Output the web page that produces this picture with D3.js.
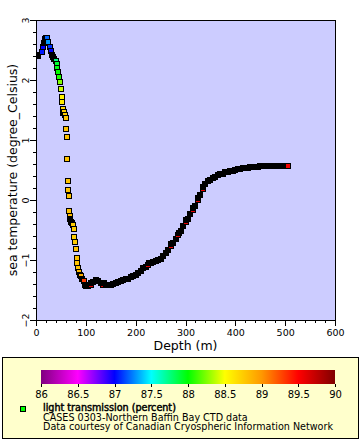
<!DOCTYPE html>
<html>
<head>
<meta charset="utf-8">
<script src="https://cdn.jsdelivr.net/npm/d3@7"></script>
<style>
  html, body { margin: 0; padding: 0; background: #ffffff; }
  svg { display: block; font-family: "DejaVu Sans", sans-serif; }
</style>
</head>
<body>
<div id="chart"></div>
<script>
// ---------------- data ----------------
const depths = [
  3, 4, 5, 13, 14, 17, 19, 21, 23, 25, 28, 30, 32, 34, 36, 40, 42, 43, 44.5, 46,
  48, 50, 51.5, 52.5, 54, 55, 56.5, 58, 60, 60.5, 62, 62, 64, 64, 65.5, 66, 67.5, 69, 71, 72.5,
  74.5, 76.5, 77, 78.5, 80, 82, 83, 84.5, 86, 88, 90, 93, 96.5, 98,
  100, 105, 110, 111, 115, 120, 125, 130, 135, 136, 140, 145, 150, 155, 160, 165, 170, 175, 180, 185, 190, 195,
  200, 205, 210, 215, 220, 225, 226, 230, 235, 240, 245, 250, 255, 260, 265, 270, 271, 275, 280, 285, 286, 290, 295,
  300, 301, 305, 310, 315, 316, 320, 325, 326, 330, 335, 336, 340, 345, 350, 355, 360, 365, 370, 375, 380, 385, 390, 395,
  400, 405, 410, 415, 420, 425, 430, 435, 440, 445, 450, 455, 460, 465, 470, 475, 480, 485, 490, 495,
  500, 505
];
const temps = [
  2.40, 2.40, 2.41, 2.46, 2.55, 2.62, 2.68, 2.70, 2.70, 2.63, 2.55, 2.49, 2.42, 2.38, 2.35, 2.32, 2.27, 2.20, 2.13, 2.05,
  1.97, 1.85, 1.72, 1.64, 1.52, 1.45, 1.46, 1.42, 1.37, 1.18, 1.05, 0.68, 0.31, 0.17, 0.06, -0.18, -0.26, -0.31, -0.36, -0.38,
  -0.41, -0.49, -0.62, -0.70, -0.81, -0.96, -1.05, -1.13, -1.20, -1.25, -1.27, -1.32, -1.35, -1.42,
  -1.44, -1.43, -1.42, -1.385, -1.37, -1.34, -1.35, -1.38, -1.41, -1.375, -1.42, -1.42, -1.41, -1.40, -1.39, -1.37, -1.35, -1.33, -1.32, -1.31, -1.29, -1.27,
  -1.25, -1.22, -1.18, -1.14, -1.11, -1.08, -1.045, -1.05, -1.03, -1.01, -1.00, -0.98, -0.94, -0.89, -0.84, -0.77, -0.735, -0.71, -0.65, -0.58, -0.545, -0.51, -0.44,
  -0.37, -0.335, -0.31, -0.24, -0.17, -0.135, -0.10, 0.00, 0.035, 0.09, 0.18, 0.215, 0.26, 0.31, 0.34, 0.37, 0.39, 0.41, 0.43, 0.44, 0.46, 0.47, 0.48, 0.49,
  0.50, 0.51, 0.52, 0.53, 0.535, 0.54, 0.545, 0.55, 0.55, 0.555, 0.56, 0.56, 0.56, 0.565, 0.565, 0.565, 0.565, 0.565, 0.565, 0.565,
  0.565, 0.565
];
// light transmission (percent); null = no value (drawn black)
const light = [
  null, null, null, 87.05, 87.0, null, null, null, 87.2, 87.3, 87.1, 87.0, null, null, null, 87.75, 87.9, 87.95, 88.0, 88.05,
  88.25, 88.4, 88.55, 88.6, 88.7, null, 88.75, 88.75, 88.8, 88.8, 88.8, 88.8, 88.8, 88.8, 88.8, 88.8, 88.85, null, null, null,
  88.75, 88.75, 88.75, 88.75, 88.8, 88.8, 88.8, 88.8, 88.85, null, 88.9, null, 89.3, null,
  null, null, 89.6, null, null, null, null, null, 89.6, null, null, null, null, null, null, null, null, null, null, null, null, null,
  null, null, null, null, null, 89.6, null, null, null, null, null, null, null, null, null, 89.6, null, null, null, 89.6, null, null, null,
  89.6, null, null, null, 89.6, null, null, 89.6, null, null, 89.6, null, null, null, null, null, null, null, null, null, null, null, null, null,
  null, null, null, null, null, null, null, null, null, null, null, null, null, null, null, null, null, null, null, null,
  null, 89.55
];

const xTicks = [0, 100, 200, 300, 400, 500, 600];
const yTicks = [-2, -1, 0, 1, 2, 3];
const colorStops = [86, 86.5, 87, 87.5, 88, 88.5, 89, 89.5, 90];
const colorHex = ["#800080", "#ff00ff", "#0000ff", "#00ffff", "#00ff00", "#ffff00", "#ff9900", "#ff0000", "#800000"];
const colorLabels = ["86", "86.5", "87", "87.5", "88", "88.5", "89", "89.5", "90"];

const xTitle = "Depth (m)";
const yTitle = "sea temperature (degree_Celsius)";
const legendLines = [
  "light transmission (percent)",
  "CASES 0303-Northern Baffin Bay CTD data",
  "Data courtesy of Canadian Cryospheric Information Network"
];

// ---------------- drawing ----------------
const W = 360, H = 440;
const svg = d3.select("#chart").append("svg").attr("width", W).attr("height", H);
svg.append("rect").attr("width", W).attr("height", H).attr("fill", "#ffffff");

const x = d3.scaleLinear().domain([0, 600]).range([36, 335]);
const y = d3.scaleLinear().domain([-2, 3]).range([320, 20]);
const color = d3.scaleLinear().domain(colorStops).range(colorHex).clamp(true);

// plot background
svg.append("rect").attr("x", 36).attr("y", 20).attr("width", 299).attr("height", 300)
  .attr("fill", "#ccccff");

svg.append("clipPath").attr("id", "clip").append("rect")
  .attr("x", 37).attr("y", 21).attr("width", 298).attr("height", 299);

// points
const pts = depths.map((d, i) => ({ d: d, t: temps[i], c: light[i] }));
svg.append("g").attr("clip-path", "url(#clip)")
  .selectAll("rect").data(pts).join("rect")
  .attr("x", p => Math.round(x(p.d)) - 2.5)
  .attr("y", p => Math.round(y(p.t)) - 2.5)
  .attr("width", 5).attr("height", 5)
  .attr("fill", p => p.c == null ? "#000000" : color(p.c))
  .attr("stroke", "#000000").attr("stroke-width", 1)
  .attr("shape-rendering", "crispEdges");

// plot frame
svg.append("rect").attr("x", 36.5).attr("y", 20.5).attr("width", 299).attr("height", 300)
  .attr("fill", "none").attr("stroke", "#000").attr("stroke-width", 1)
  .attr("shape-rendering", "crispEdges");

// x axis
const xMinor = d3.range(0, 601, 20).filter(v => v % 100 !== 0);
const gx = svg.append("g").attr("transform", "translate(0,320)");
gx.call(d3.axisBottom(x).tickValues(xMinor).tickSize(3).tickSizeOuter(0).tickFormat(""));
gx.call(g => g.select(".domain").remove());
const gx2 = svg.append("g").attr("transform", "translate(0,320)");
gx2.call(d3.axisBottom(x).tickValues(xTicks).tickSize(6).tickSizeOuter(0).tickPadding(3).tickFormat(d3.format("d")));
gx2.call(g => g.select(".domain").remove());
gx2.selectAll("text").attr("font-size", "9.5px").attr("font-family", "DejaVu Sans").attr("fill", "#000");

// y axis
const yMinor = d3.range(-2, 3.001, 0.2).map(v => Math.round(v * 10) / 10).filter(v => Math.abs(v - Math.round(v)) > 1e-6);
const gy = svg.append("g").attr("transform", "translate(36,0)");
gy.call(d3.axisLeft(y).tickValues(yMinor).tickSize(3).tickSizeOuter(0).tickFormat(""));
gy.call(g => g.select(".domain").remove());
const gy2 = svg.append("g").attr("transform", "translate(36,0)");
gy2.call(d3.axisLeft(y).tickValues(yTicks).tickSize(6).tickSizeOuter(0).tickFormat(""));
gy2.call(g => g.select(".domain").remove());
svg.selectAll(".tick line").attr("stroke", "#000").attr("shape-rendering", "crispEdges");
gy2.selectAll(".tick").append("text")
  .attr("transform", "translate(-7,0) rotate(-90)")
  .attr("text-anchor", "middle")
  .attr("font-size", "9.5px").attr("font-family", "DejaVu Sans").attr("fill", "#000")
  .text(d => d3.format("d")(d));

// titles
svg.append("text").attr("x", (x(0) + x(600)) / 2).attr("y", 350)
  .attr("text-anchor", "middle").attr("font-size", "12.5px").attr("fill", "#000").text(xTitle);
svg.append("text").attr("transform", `translate(16.5,${(y(3) + y(-2)) / 2}) rotate(-90)`)
  .attr("text-anchor", "middle").attr("font-size", "12.5px").attr("fill", "#000").text(yTitle);

// legend box
svg.append("rect").attr("x", 2.5).attr("y", 357.5).attr("width", 356).attr("height", 81)
  .attr("fill", "#ffffcc").attr("stroke", "#000").attr("stroke-width", 1)
  .attr("shape-rendering", "crispEdges");

// colorbar
const cb = d3.scaleLinear().domain([86, 90]).range([41, 335]);
const grad = svg.append("defs").append("linearGradient").attr("id", "cbgrad")
  .attr("x1", "0%").attr("x2", "100%").attr("y1", "0%").attr("y2", "0%");
colorStops.forEach((v, i) => {
  grad.append("stop").attr("offset", ((v - 86) / 4 * 100) + "%").attr("stop-color", colorHex[i]);
});
svg.append("rect").attr("x", cb(86)).attr("y", 370).attr("width", cb(90) - cb(86)).attr("height", 14)
  .attr("fill", "url(#cbgrad)");
const gcb = svg.append("g").attr("transform", "translate(0,384)");
gcb.call(d3.axisBottom(cb).tickValues(colorStops).tickSize(3).tickSizeOuter(0).tickPadding(4)
  .tickFormat((d, i) => colorLabels[i]));
gcb.call(g => g.select(".domain").remove());
gcb.selectAll("line").attr("stroke", "#000").attr("shape-rendering", "crispEdges");
gcb.selectAll("text").attr("font-size", "10px").attr("font-family", "DejaVu Sans").attr("fill", "#000");

// legend marker + text
svg.append("rect").attr("x", 20.5).attr("y", 406.5).attr("width", 5).attr("height", 5)
  .attr("fill", color(88)).attr("stroke", "#000").attr("stroke-width", 1)
  .attr("shape-rendering", "crispEdges");
const lbase = [410.5, 420.5, 430];
legendLines.forEach((s, i) => {
  const t = svg.append("text").attr("x", 43).attr("y", lbase[i])
    .attr("font-size", "9.6px").attr("fill", "#000").text(s);
  if (i === 0) t.attr("stroke", "#000").attr("stroke-width", 0.45);
});
</script>
</body>
</html>
